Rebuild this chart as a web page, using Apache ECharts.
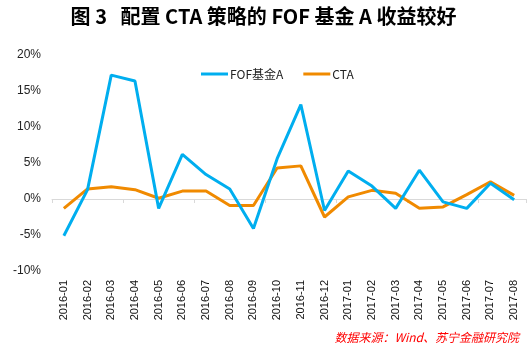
<!DOCTYPE html>
<html><head><meta charset="utf-8">
<script src="https://cdn.jsdelivr.net/npm/echarts@6/dist/echarts.min.js"></script>
<style>html,body{margin:0;padding:0;background:#fff}#c{width:527px;height:352px}</style>
</head><body><div id="c"></div>
<script>
var categories = ['2016-01','2016-02','2016-03','2016-04','2016-05','2016-06','2016-07','2016-08','2016-09','2016-10','2016-11','2016-12','2017-01','2017-02','2017-03','2017-04','2017-05','2017-06','2017-07','2017-08'];
var fofA = [-5.1, 1.3, 17.2, 16.4, -1.3, 6.2, 3.4, 1.4, -4.1, 5.6, 13.1, -1.6, 3.9, 1.8, -1.3, 4.0, -0.4, -1.3, 2.2, -0.1];
var cta = [-1.3, 1.4, 1.7, 1.3, 0.1, 1.1, 1.1, -0.9, -0.9, 4.3, 4.6, -2.5, 0.3, 1.2, 0.8, -1.3, -1.1, 0.6, 2.4, 0.5];
var yTicks = {min: -10, max: 20, interval: 5};

var chart = echarts.init(document.getElementById('c'), null, {renderer: 'canvas'});
chart.setOption({
  animation: false,
  backgroundColor: '#fff',
  title: {
    text: '图 3   配置 CTA 策略的 FOF 基金 A 收益较好',
    left: 'center', top: 1,
    textStyle: {fontFamily: 'Noto Sans CJK SC', fontWeight: 'bold', fontSize: 20, color: '#000'}
  },
  legend: {
    left: 196, top: 63, itemWidth: 27, itemHeight: 3, itemGap: 20,
    icon: 'rect',
    textStyle: {fontFamily: 'Noto Sans CJK SC', fontSize: 12, color: '#222', padding: [0, 0, 0, -3]},
    data: ['FOF基金A', 'CTA']
  },
  grid: {left: 52, right: 1, top: 55, bottom: 81, containLabel: false},
  xAxis: [{
    type: 'category', data: categories, boundaryGap: true,
    axisLine: {show: false, onZero: false}, axisTick: {show: false},
    axisLabel: {rotate: 90, fontSize: 11, color: '#111', margin: 9, fontFamily: 'Liberation Sans'}
  }, {
    type: 'category', data: categories, boundaryGap: true, position: 'bottom',
    axisLine: {show: true, onZero: true, lineStyle: {color: '#d9d9d9', width: 1}},
    axisTick: {show: true, length: 4, lineStyle: {color: '#d9d9d9'}},
    axisLabel: {show: false}
  }],
  yAxis: {
    type: 'value', min: yTicks.min, max: yTicks.max, interval: yTicks.interval,
    axisLine: {show: false}, axisTick: {show: false}, splitLine: {show: false},
    axisLabel: {formatter: '{value}%', fontSize: 12, color: '#222', margin: 11, fontFamily: 'Liberation Sans'}
  },
  series: [{
    name: 'FOF基金A', type: 'line', data: fofA, symbol: 'none',
    lineStyle: {width: 3, color: '#00AEEF'}, itemStyle: {color: '#00AEEF'}, z: 3
  }, {
    name: 'CTA', type: 'line', data: cta, symbol: 'none',
    lineStyle: {width: 3, color: '#F08A00'}, itemStyle: {color: '#F08A00'}, z: 2
  }],
  graphic: [{
    type: 'text', right: 8, top: 331,
    style: {text: '数据来源：Wind、苏宁金融研究院', fill: '#FF0000', fontSize: 12, fontStyle: 'italic', fontFamily: 'Noto Sans CJK SC'}
  }]
});
</script></body></html>
